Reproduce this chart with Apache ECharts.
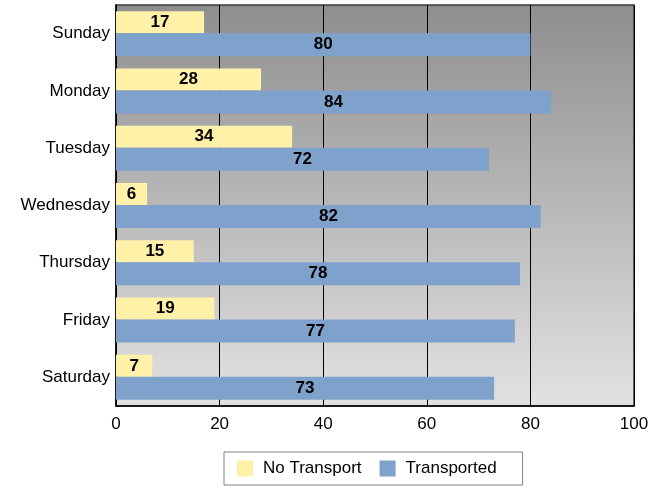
<!DOCTYPE html>
<html>
<head>
<meta charset="utf-8">
<script src="https://cdn.jsdelivr.net/npm/echarts@6/dist/echarts.min.js"></script>
<style>
  html, body { margin: 0; padding: 0; background: #ffffff; }
  #chart { width: 670px; height: 489px; }
</style>
</head>
<body>
<div id="chart"></div>
<script>
// Days of the week and counts per transport status
const days = ['Sunday', 'Monday', 'Tuesday', 'Wednesday', 'Thursday', 'Friday', 'Saturday'];
const noTransport = [17, 28, 34, 6, 15, 19, 7];
const transported = [80, 84, 72, 82, 78, 77, 73];
const seriesNames = ['No Transport', 'Transported'];
const xTicks = { min: 0, max: 100, interval: 20 };

const FONT = 'Arial, "Liberation Sans", sans-serif';

const chart = echarts.init(document.getElementById('chart'), null, { renderer: 'canvas' });

const valueLabel = {
  show: true,
  position: 'inside',
  color: '#000000',
  fontFamily: FONT,
  fontWeight: 'bold',
  fontSize: 17
};

chart.setOption({
  animation: false,
  grid: {
    left: 116, right: 36, top: 5, bottom: 83,
    show: true,
    borderColor: '#3a3a3a',
    borderWidth: 1.5,
    backgroundColor: new echarts.graphic.LinearGradient(0, 0, 0, 1, [
      { offset: 0, color: '#8e8e8e' },
      { offset: 1, color: '#e2e2e2' }
    ])
  },
  legend: {
    top: 452,
    left: 224,
    itemWidth: 16,
    itemHeight: 16,
    itemGap: 18,
    padding: [8, 26, 8, 13],
    borderColor: '#808080',
    borderWidth: 1,
    icon: 'rect',
    textStyle: { fontFamily: FONT, fontSize: 17, color: '#000', padding: [0, 0, 0, 5] },
    data: seriesNames
  },
  xAxis: {
    type: 'value',
    min: xTicks.min, max: xTicks.max, interval: xTicks.interval,
    axisLine: { show: true, lineStyle: { color: '#000', width: 1.5 } },
    axisTick: { show: false },
    axisLabel: { fontFamily: FONT, fontSize: 17, color: '#000', margin: 10 },
    splitLine: { show: true, lineStyle: { color: '#000', width: 1 } }
  },
  yAxis: {
    type: 'category',
    data: days,
    inverse: true,
    axisLine: { show: true, lineStyle: { color: '#000', width: 1.5 } },
    axisTick: { show: false },
    axisLabel: { fontFamily: FONT, fontSize: 17, color: '#000', margin: 6 },
    splitLine: { show: false }
  },
  series: [
    {
      name: seriesNames[0],
      type: 'bar',
      data: noTransport,
      barWidth: 22,
      barGap: '0%',
      itemStyle: { color: '#fff2a8' },
      label: valueLabel
    },
    {
      name: seriesNames[1],
      type: 'bar',
      data: transported,
      barWidth: 23,
      itemStyle: { color: '#7ea2cc' },
      label: valueLabel
    }
  ]
});
</script>
</body>
</html>
